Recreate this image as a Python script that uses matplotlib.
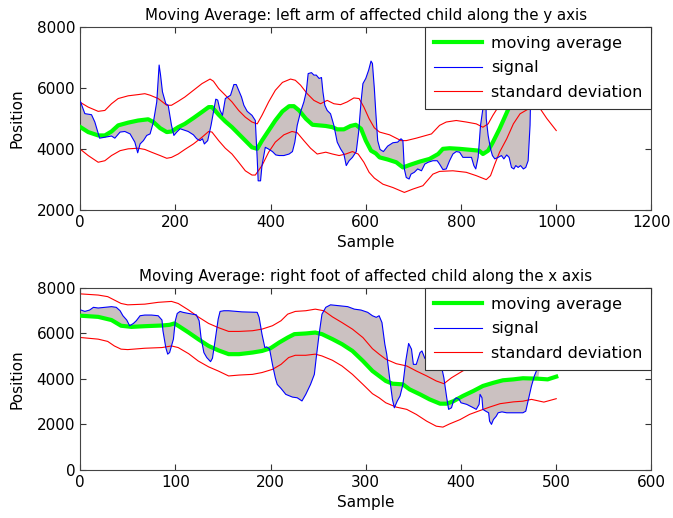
import numpy as np
import matplotlib
matplotlib.use("Agg")
import matplotlib.pyplot as plt

# ---- top panel: left arm, y axis ----
top_sig_x = [1, 10, 24, 31, 41, 52, 66, 73, 84, 94, 105, 115, 121, 126, 133, 140, 147, 154, 161, 166,
             169, 173, 180, 185, 192, 197, 203, 210, 221, 227, 238, 245, 252, 257, 261, 268, 275, 280,
             285, 289, 294, 299, 305, 316, 323, 328, 333, 339, 344, 351, 361, 368, 372, 374, 379, 382,
             389, 395, 404, 411, 418, 428, 439, 446, 451, 456, 463, 470, 475, 479, 486, 491, 496, 502,
             507, 510, 514, 519, 526, 533, 540, 547, 554, 559, 565, 572, 580, 585, 590, 594, 600, 606,
             611, 614, 618, 621, 625, 630, 637, 646, 657, 667, 674, 678, 681, 685, 691, 695, 702, 709,
             717, 724, 731, 741, 750, 755, 762, 769, 776, 783, 790, 797, 804, 815, 822, 827, 831, 836,
             841, 846, 850, 852, 853, 857, 862, 866, 871, 878, 885, 890, 896, 901, 906, 911, 915, 920,
             925, 931, 936, 941, 945, 947]
top_sig_y = [5540, 5155, 5120, 4880, 4350, 4380, 4420, 4350, 4550, 4570, 4490, 4220, 3870, 4160, 4270,
             4440, 4490, 4880, 5540, 6750, 6420, 5870, 5480, 5430, 4770, 4440, 4550, 4660, 4600, 4570,
             4460, 4330, 4270, 4330, 4160, 4270, 4770, 5210, 5630, 5600, 5260, 5100, 5650, 5760, 6110,
             6110, 5920, 5700, 5430, 5230, 5100, 4930, 3670, 2950, 2950, 3450, 4050, 4000, 3910, 3800,
             3780, 3780, 3830, 3910, 4220, 4770, 5210, 5540, 5870, 6470, 6500, 6420, 6420, 6310, 6340,
             5870, 5430, 5260, 5150, 4770, 4220, 4000, 3830, 3450, 3610, 3720, 3910, 4550, 5540, 6140,
             6310, 6580, 6880, 6800, 5980, 5210, 4270, 3980, 3910, 4090, 4200, 4220, 4330, 4270, 3340,
             3060, 3010, 3170, 3230, 3340, 3280, 3500, 3560, 3610, 3610, 3500, 3320, 3340, 3610, 3830,
             3910, 3890, 3720, 3720, 3720, 3450, 3340, 3720, 4770, 5320, 5700, 5900, 4990, 4440, 4000,
             3780, 3670, 3720, 3780, 3670, 3800, 3720, 3390, 3340, 3450, 3390, 3450, 3340, 3390, 3610,
             4770, 6300]

top_ma_x = [1, 17, 38, 52, 66, 80, 101, 122, 143, 154, 168, 182, 192, 206, 220, 238, 256, 270, 277,
            291, 305, 319, 333, 347, 361, 372, 382, 396, 410, 425, 439, 449, 460, 474, 488, 502, 516,
            530, 540, 554, 568, 579, 590, 600, 611, 621, 629, 646, 664, 678, 692, 713, 734, 752, 762,
            776, 797, 818, 838, 846, 857, 867, 881, 895, 903, 925, 950]
top_ma_y = [4710, 4550, 4440, 4440, 4570, 4770, 4860, 4930, 4970, 4880, 4680, 4550, 4570, 4710, 4820,
            5010, 5210, 5370, 5370, 5120, 4900, 4710, 4490, 4270, 4050, 4000, 4270, 4600, 4930, 5230,
            5400, 5400, 5260, 4990, 4790, 4770, 4750, 4710, 4640, 4640, 4750, 4790, 4660, 4270, 3940,
            3850, 3720, 3650, 3560, 3390, 3470, 3580, 3670, 3830, 4000, 4020, 4000, 3970, 3940, 3830,
            3940, 4220, 4660, 5150, 5430, 5900, 6300]

top_up_x = [1, 17, 38, 52, 66, 80, 101, 122, 136, 147, 164, 182, 192, 206, 220, 238, 256, 273, 280,
            291, 305, 319, 333, 347, 361, 372, 382, 396, 410, 425, 442, 452, 463, 477, 491, 505, 519,
            533, 547, 561, 575, 586, 596, 607, 618, 629, 650, 674, 685, 706, 738, 755, 769, 790, 811,
            832, 846, 857, 867, 878, 900, 950, 1000]
top_up_y = [5520, 5370, 5230, 5260, 5480, 5650, 5740, 5780, 5810, 5760, 5650, 5430, 5430, 5560, 5700,
            5920, 6140, 6290, 6220, 5980, 5760, 5540, 5260, 5040, 4880, 4820, 5100, 5540, 5920, 6180,
            6290, 6250, 6090, 5810, 5590, 5480, 5590, 5480, 5450, 5540, 5670, 5650, 5370, 4990, 4690,
            4550, 4460, 4270, 4270, 4350, 4490, 4770, 4880, 4930, 4880, 4820, 4710, 4820, 5100, 5370,
            5900, 6600, 6900]

top_lo_x = [1, 17, 38, 52, 66, 84, 101, 122, 136, 150, 168, 182, 192, 206, 220, 238, 256, 270, 277,
            291, 305, 319, 333, 347, 361, 368, 382, 396, 410, 428, 445, 456, 470, 484, 498, 516, 530,
            544, 558, 572, 584, 596, 607, 618, 636, 657, 681, 699, 720, 741, 755, 783, 811, 832, 853,
            862, 871, 881, 896, 910, 924, 945, 955, 964, 980, 1000]
top_lo_y = [3980, 3780, 3560, 3610, 3780, 3940, 4000, 4020, 3980, 3890, 3780, 3690, 3720, 3830, 3980,
            4160, 4380, 4570, 4550, 4270, 4020, 3830, 3560, 3280, 3140, 3140, 3450, 3890, 4220, 4460,
            4570, 4530, 4270, 4020, 3830, 3890, 3830, 3780, 3830, 3910, 3830, 3560, 3230, 3040, 2840,
            2730, 2570, 2680, 2790, 3170, 3260, 3280, 3230, 3120, 2990, 3120, 3500, 3890, 4330, 4820,
            5150, 5340, 5500, 5370, 5000, 4600]

# ---- bottom panel: right foot, x axis ----
bot_sig_x = [1, 5, 10, 14, 19, 26, 33, 38, 42, 45, 49, 52, 56, 59, 63, 68, 75, 82, 86, 87, 90, 92, 94,
             98, 100, 102, 105, 108, 114, 122, 125, 127, 130, 133, 137, 139, 142, 145, 147, 151, 156,
             170, 186, 188, 191, 194, 196, 199, 202, 205, 207, 211, 216, 223, 228, 233, 237, 242, 246,
             248, 251, 254, 258, 263, 272, 281, 288, 295, 302, 307, 311, 314, 317, 320, 322, 325, 328,
             330, 333, 336, 339, 342, 345, 348, 350, 353, 357, 359, 362, 365, 369, 374, 378, 380, 382,
             385, 387, 390, 392, 395, 398, 400, 406, 413, 416, 419, 420, 422, 423, 426, 429, 430, 432,
             434, 437, 439, 443, 448, 455, 462, 465, 468, 470, 474, 477, 481, 485]
bot_sig_y = [7030, 6970, 7030, 7150, 7120, 7150, 7180, 7150, 7000, 6780, 6590, 6340, 6440, 6560, 6780,
             6810, 6810, 6780, 6590, 6120, 5380, 5090, 5160, 5750, 6560, 6880, 6970, 6930, 6880, 6820,
             6560, 5820, 5160, 4940, 4760, 4910, 5750, 6630, 6970, 7000, 7000, 6950, 6930, 6710, 5970,
             5380, 5410, 5310, 4640, 4050, 3760, 3580, 3320, 3200, 3170, 3030, 3320, 3760, 4200, 4940,
             5970, 6850, 7150, 7260, 7220, 7180, 7070, 7030, 6930, 6780, 6710, 6780, 6480, 5530, 5090,
             4050, 3100, 2730, 3020, 3250, 3760, 4790, 5560, 5310, 4640, 4640, 5160, 5230, 4910, 4790,
             4720, 4640, 4500, 4450, 4050, 3170, 2660, 2730, 3020, 3170, 3100, 2950, 2880, 2730, 2660,
             2880, 3320, 3170, 2660, 2580, 2510, 2140, 2000, 2210, 2360, 2510, 2550, 2510, 2510, 2510,
             2510, 2580, 2950, 3690, 4130, 4540, 5000]

bot_ma_x = [1, 19, 33, 43, 54, 68, 86, 94, 99, 103, 114, 124, 135, 145, 156, 167, 181, 191, 200, 209,
            218, 225, 237, 247, 254, 265, 275, 286, 297, 307, 314, 321, 328, 339, 346, 357, 367, 378,
            385, 392, 402, 413, 423, 434, 444, 455, 465, 481, 491, 500]
bot_ma_y = [6780, 6730, 6590, 6340, 6290, 6320, 6350, 6380, 6440, 6340, 6040, 5750, 5450, 5260, 5090,
            5090, 5160, 5230, 5350, 5600, 5820, 5970, 6000, 6040, 5970, 5750, 5530, 5230, 4790, 4350,
            4130, 3910, 3790, 3760, 3540, 3320, 3100, 2910, 2910, 3020, 3250, 3470, 3690, 3830, 3940,
            3980, 4030, 4010, 3980, 4100]

bot_up_x = [1, 19, 29, 36, 43, 50, 68, 82, 96, 103, 114, 124, 135, 145, 156, 167, 181, 191, 202, 211,
            218, 226, 237, 247, 256, 265, 275, 286, 297, 307, 314, 321, 332, 343, 353, 364, 374, 382,
            390, 399, 408, 430, 460, 500]
bot_up_y = [7740, 7690, 7620, 7470, 7320, 7260, 7290, 7370, 7410, 7320, 7030, 6730, 6440, 6260, 6090,
            6090, 6120, 6190, 6340, 6560, 6850, 6970, 7000, 7070, 7000, 6730, 6480, 6190, 5820, 5330,
            5090, 4870, 4670, 4570, 4350, 4130, 3910, 3790, 4050, 4280, 4500, 4800, 5100, 5300]

bot_lo_x = [1, 19, 29, 36, 43, 50, 68, 86, 96, 103, 114, 124, 135, 145, 156, 167, 181, 191, 202, 211,
            219, 226, 237, 247, 254, 265, 275, 286, 297, 307, 314, 321, 332, 343, 353, 364, 374, 381,
            388, 399, 409, 420, 430, 441, 455, 465, 474, 487, 500]
bot_lo_y = [5820, 5750, 5650, 5450, 5310, 5290, 5350, 5380, 5450, 5380, 5110, 4790, 4530, 4350, 4130,
            4170, 4200, 4280, 4420, 4640, 4940, 5040, 5040, 5090, 5010, 4820, 4570, 4200, 3760, 3350,
            3170, 2950, 2760, 2660, 2440, 2140, 1920, 1880, 2020, 2210, 2440, 2610, 2760, 2910, 2990,
            3020, 3100, 2980, 3130]

panels = [
    ("Moving Average: left arm of affected child along the y axis",
     top_sig_x, top_sig_y, top_ma_x, top_ma_y, top_up_x, top_up_y, top_lo_x, top_lo_y,
     (0, 1200), np.arange(0, 1201, 200), (2000, 8000), np.arange(2000, 8001, 2000)),
    ("Moving Average: right foot of affected child along the x axis",
     bot_sig_x, bot_sig_y, bot_ma_x, bot_ma_y, bot_up_x, bot_up_y, bot_lo_x, bot_lo_y,
     (0, 600), np.arange(0, 601, 100), (0, 8000), np.arange(0, 8001, 2000)),
]

fig = plt.figure(figsize=(6.73, 5.18), dpi=100)
rects = [[0.119, 0.595, 0.849, 0.353], [0.119, 0.093, 0.849, 0.351]]

for rect, (title, sx, sy, mx, my, ux, uy, lx, ly, xlim, xt, ylim, yt) in zip(rects, panels):
    ax = fig.add_axes(rect)
    # grey area between signal and moving average
    mx_a, my_a = np.array(mx), np.array(my)
    keep = mx_a <= max(sx)
    ax.fill(np.r_[sx, mx_a[keep][::-1]], np.r_[sy, my_a[keep][::-1]],
            color="#cbc1c1", lw=0, zorder=1)
    ax.plot(mx, my, color="#00ff00", lw=3, label="moving average", zorder=3)
    ax.plot(sx, sy, color="#0000ff", lw=0.8, label="signal", zorder=4)
    ax.plot(ux, uy, color="#ff0000", lw=0.8, label="standard deviation", zorder=2)
    ax.plot(lx, ly, color="#ff0000", lw=0.8, zorder=2)

    ax.set_xlim(*xlim)
    ax.set_ylim(*ylim)
    ax.set_xticks(xt)
    ax.set_yticks(yt)
    ax.tick_params(direction="in", top=True, right=True, labelsize=11, length=4, color="#333333")
    for s in ax.spines.values():
        s.set_color("#444444")
    ax.set_title(title, fontsize=10.8, pad=5)
    ax.set_xlabel("Sample", fontsize=11, labelpad=4)
    ax.set_ylabel("Position", fontsize=11, labelpad=9)
    leg = ax.legend(loc="upper right", fontsize=11.5, borderaxespad=0, fancybox=False,
                    framealpha=1, edgecolor="#333333", handlelength=3.0, handletextpad=0.6,
                    labelspacing=0.6, borderpad=0.55)
    leg.get_frame().set_linewidth(0.8)
    leg.set_zorder(10)

fig.savefig("out.png", dpi=100)
